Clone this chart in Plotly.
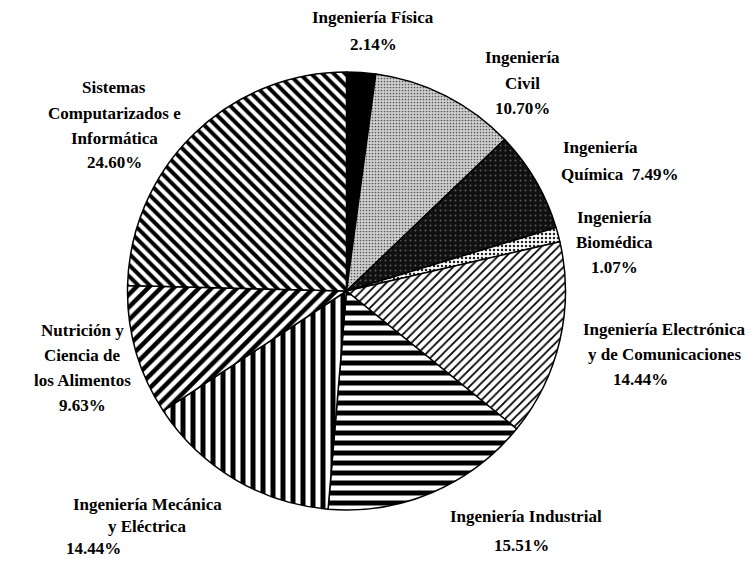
import plotly.graph_objects as go

# Distribución por carrera (porcentajes)
carreras = [
    'Ingeniería Física',
    'Ingeniería Civil',
    'Ingeniería Química',
    'Ingeniería Biomédica',
    'Ingeniería Electrónica y de Comunicaciones',
    'Ingeniería Industrial',
    'Ingeniería Mecánica y Eléctrica',
    'Nutrición y Ciencia de los Alimentos',
    'Sistemas Computarizados e Informática',
]
porcentajes = [2.14, 10.70, 7.49, 1.07, 14.44, 15.51, 14.44, 9.63, 24.60]

# texto de cada etiqueta, renglón por renglón
etiquetas = [
    ['Ingeniería Física', '2.14%'],
    ['Ingeniería', 'Civil', '10.70%'],
    ['Ingeniería', 'Química  7.49%'],
    ['Ingeniería', 'Biomédica', '1.07%'],
    ['Ingeniería Electrónica', 'y de Comunicaciones', '14.44%'],
    ['Ingeniería Industrial', '15.51%'],
    ['Ingeniería Mecánica', 'y Eléctrica', '14.44%'],
    ['Nutrición y', 'Ciencia de', 'los Alimentos', '9.63%'],
    ['Sistemas', 'Computarizados e', 'Informática', '24.60%'],
]

# tramas en blanco y negro
formas = ['', '.', '.', '.', '/', '-', '|', '/', '\\']
fondos = ['black', '#d0d0d0', '#101010', 'white', 'white', 'white', 'white', 'white', 'white']
frentes = ['black', '#555555', '#5a5a5a', '#222222', 'black', 'black', 'black', 'black', 'black']
tamanos = [8, 3, 5, 4, 6, 10, 10, 9, 8]
solidez = [0.5, 0.25, 0.12, 0.3, 0.3, 0.5, 0.5, 0.5, 0.5]

# la página deja 8 px de margen: la figura ocupa el resto de la ventana
OFF = 8
W, H = 753 - OFF, 561 - OFF

fig = go.Figure(go.Pie(
    labels=carreras,
    values=porcentajes,
    sort=False,
    direction='clockwise',
    rotation=0,
    textinfo='none',
    hoverinfo='label+percent',
    marker=dict(
        colors=fondos,
        line=dict(color='black', width=1.5),
        pattern=dict(shape=formas, fgcolor=frentes, bgcolor=fondos,
                     size=tamanos, solidity=solidez, fillmode='replace'),
    ),
    domain=dict(x=[0.1604, 0.7483], y=[0.0922, 0.8843]),
    showlegend=False,
))

# posición (px en pantalla) del primer renglón de cada etiqueta
pos = [
    (373, 17), (522, 58), (600, 147),
    (614, 217), (664, 329), (526, 516),
    (147, 504), (82, 330), (114, 88),
]
pasos = [28, 25, 27, 25, 25, 29, 22, 25, 25]
ajustes = {(2, 1): 620, (4, 2): 640, (6, 2): 93, (5, 1): 521}

anotaciones = []
for i, lineas in enumerate(etiquetas):
    x0, y0 = pos[i]
    for j, linea in enumerate(lineas):
        x = ajustes.get((i, j), x0)
        y = y0 + j * pasos[i]
        anotaciones.append(dict(
            x=(x - OFF) / W, y=1 - (y - OFF) / H, xref='paper', yref='paper',
            text='<b>' + linea + '</b>', showarrow=False,
            xanchor='center', yanchor='middle',
            font=dict(family='Liberation Serif', size=17, color='black'),
        ))

fig.update_layout(
    width=W, height=H,
    margin=dict(l=0, r=0, t=0, b=0),
    paper_bgcolor='white',
    plot_bgcolor='white',
    annotations=anotaciones,
)

fig.write_html('out.html')
